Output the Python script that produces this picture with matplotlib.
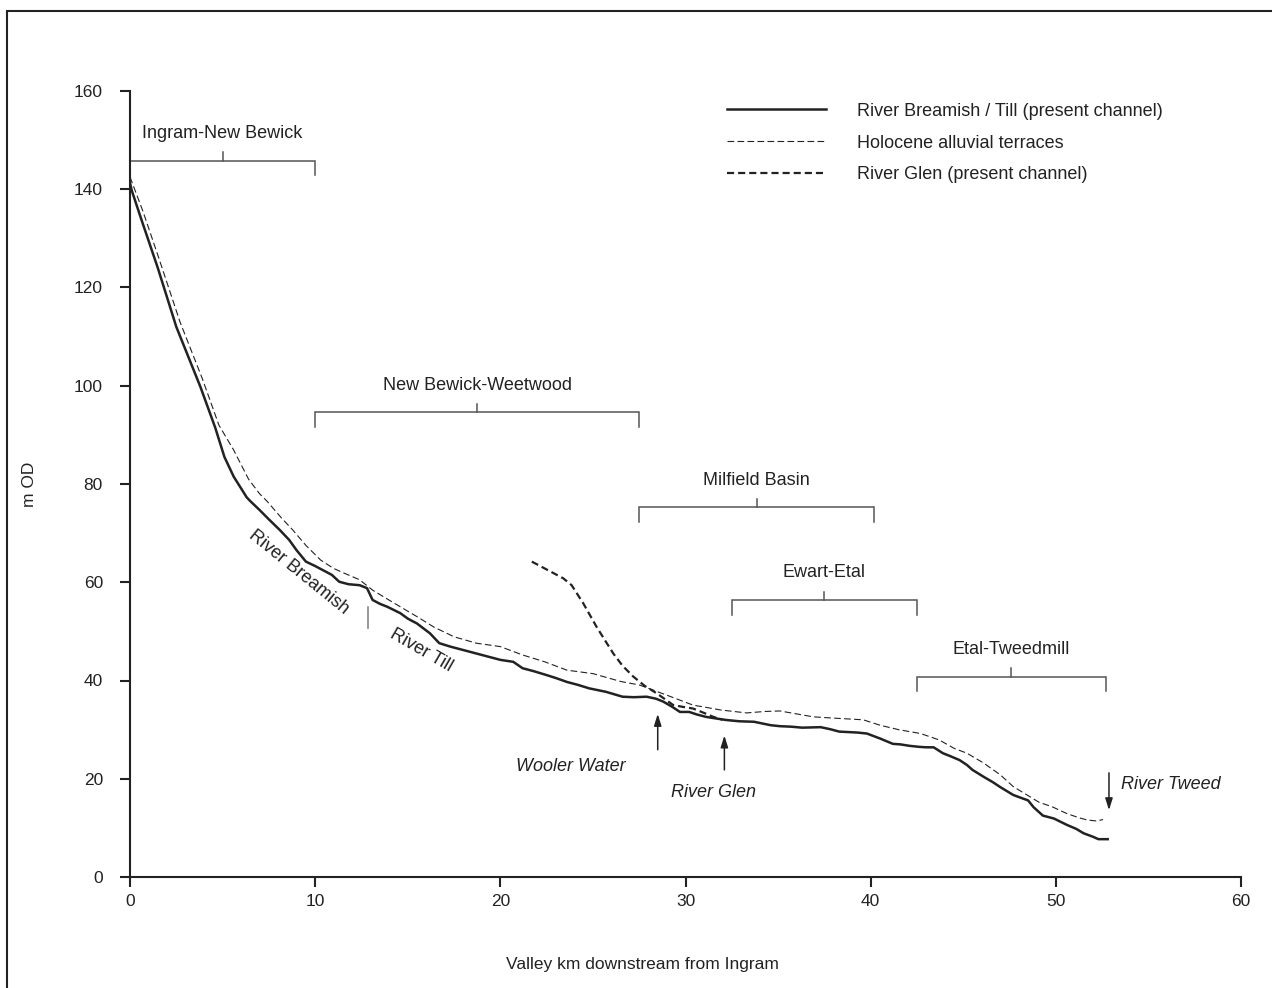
import matplotlib

matplotlib.use("Agg")

import matplotlib.pyplot as plt
from matplotlib.lines import Line2D
from matplotlib.patches import Rectangle

plt.rcParams["font.family"] = ["Liberation Sans", "DejaVu Sans"]

INK = "#222222"
GREY = "#555555"

# long profile of River Breamish / Till (present channel)
breamish_km = [
    0, 0.09, 0.6, 1.5, 2.5, 3.8, 4.6, 5.1, 5.6, 6.3, 6.5, 7.0, 7.5, 8.1, 8.6,
    9.0, 9.5, 10.0, 10.4, 10.9, 11.3, 11.8, 12.4, 12.8, 13.1, 13.5, 13.9, 14.6,
    15.0, 15.5, 16.2, 16.7, 17.3, 18.0, 18.7, 19.3, 20.0, 20.7, 21.2, 21.8,
    22.5, 23.0, 23.6, 24.2, 24.8, 25.7, 26.6, 27.2, 27.9, 28.4, 28.8, 29.3,
    29.7, 30.2, 30.6, 31.1, 31.6, 32.2, 32.9, 33.7, 34.6, 35.1, 35.7, 36.3,
    37.3, 37.8, 38.3, 38.8, 39.3, 39.8, 40.5, 41.2, 41.6, 42.1, 42.6, 43.0,
    43.4, 43.9, 44.3, 44.8, 45.2, 45.5, 46.1, 46.6, 47.0, 47.7, 48.2, 48.5,
    48.8, 49.3, 49.9, 50.6, 51.1, 51.5, 52.0, 52.3, 52.8,
]
breamish_m = [
    141.3, 139.8, 134.0, 124.0, 112.0, 99.8, 91.5, 85.5, 81.5, 77.3, 76.5,
    74.7, 72.8, 70.6, 68.6, 66.5, 64.2, 63.3, 62.5, 61.5, 60.1, 59.6, 59.4,
    58.8, 56.4, 55.6, 55.0, 53.7, 52.6, 51.6, 49.6, 47.6, 46.9, 46.2, 45.5,
    44.9, 44.2, 43.8, 42.5, 41.9, 41.1, 40.5, 39.7, 39.1, 38.4, 37.7, 36.7,
    36.6, 36.7, 36.3, 35.7, 34.6, 33.6, 33.6, 33.1, 32.6, 32.3, 31.96, 31.7,
    31.6, 30.9, 30.7, 30.6, 30.4, 30.5, 30.1, 29.6, 29.5, 29.4, 29.2, 28.2,
    27.1, 27.0, 26.7, 26.5, 26.4, 26.4, 25.2, 24.6, 23.8, 22.8, 21.8, 20.4,
    19.3, 18.3, 16.7, 16.0, 15.6, 14.2, 12.5, 11.9, 10.6, 9.8, 8.9, 8.2, 7.7,
    7.7,
]

# Holocene alluvial terrace surface
terrace_km = [
    0, 0.1, 0.7, 1.6, 2.7, 3.9, 4.8, 5.6, 6.4, 7.0, 7.4, 8.2, 8.8, 9.5, 10.3,
    11.0, 11.6, 12.4, 13.1, 13.8, 14.6, 15.5, 16.4, 17.5, 18.7, 20.0, 21.2,
    22.4, 23.6, 25.0, 26.5, 27.5, 29.0, 30.4, 31.9, 33.3, 34.3, 35.1, 36.0,
    36.9, 38.2, 39.6, 40.5, 41.5, 42.7, 43.7, 44.5, 45.2, 46.1, 47.0, 47.7,
    48.4, 49.1, 49.8, 50.6, 51.3, 51.7, 52.2, 52.55,
]
terrace_m = [
    142.5, 141.5, 135.5, 125.5, 113.0, 101.5, 92.0, 86.9, 81.0, 78.0, 76.5,
    73.0, 70.6, 67.5, 64.5, 62.8, 61.8, 60.5, 58.4, 56.8, 55.0, 53.0, 50.9,
    48.9, 47.6, 46.9, 45.2, 43.8, 42.1, 41.4, 39.8, 39.1, 37.0, 35.0, 34.0,
    33.4, 33.7, 33.8, 33.2, 32.6, 32.3, 32.0, 30.9, 30.0, 29.2, 27.9, 26.2,
    25.2, 23.2, 20.8, 18.4, 16.8, 15.2, 14.3, 12.9, 12.0, 11.6, 11.4, 11.7,
]

# River Glen (present channel)
glen_km = [21.7, 22.5, 23.4, 23.85, 24.48, 25.2, 26.1, 26.6, 27.18, 27.8,
           28.44, 29.34, 29.9, 30.4, 31.0, 31.5, 32.0]
glen_m = [64.2, 62.6, 60.8, 59.4, 55.7, 50.9, 45.5, 43.0, 40.8, 38.9, 37.4,
          35.0, 34.6, 34.3, 33.4, 32.6, 32.0]

# reach brackets
reach_names = ["Ingram-New Bewick", "New Bewick-Weetwood", "Milfield Basin",
               "Ewart-Etal", "Etal-Tweedmill"]
reach_start = [0, 10, 27.5, 32.5, 42.5]
reach_end = [10, 27.5, 40.2, 42.5, 52.7]
reach_level = [145.8, 94.6, 75.3, 56.4, 40.8]

# tributary confluences (arrows)
trib_names = ["Wooler Water", "River Glen", "River Tweed"]
trib_km = [28.5, 32.1, 52.87]
trib_tail = [25.9, 21.8, 21.2]
trib_head = [33.2, 28.8, 13.6]

fig = plt.figure(figsize=(12.72, 9.88), dpi=100)
fig.patches.append(Rectangle((7 / 1272, -0.1), 1.2, 1.1 - 11 / 988,
                             transform=fig.transFigure, fill=False,
                             edgecolor=INK, linewidth=1.5))
ax = fig.add_axes([130 / 1272, 1 - 877 / 988, 1111 / 1272, 786 / 988])

ax.plot(breamish_km, breamish_m, color=INK, lw=1.8,
        label="River Breamish / Till (present channel)")
ax.plot(terrace_km, terrace_m, color=INK, lw=0.8, dashes=(6, 3),
        label="Holocene alluvial terraces")
ax.plot(glen_km, glen_m, color=INK, lw=1.6, dashes=(3.2, 1.8),
        label="River Glen (present channel)")

for name, start, end, level in zip(reach_names, reach_start, reach_end, reach_level):
    mid = (start + end) / 2
    ax.plot([start, start, end, end], [level - 3, level, level, level - 3],
            color=GREY, lw=1.1, solid_joinstyle="miter")
    ax.plot([mid, mid], [level, level + 1.7], color=GREY, lw=1.1)
    ax.text(mid, level + 5.5, name, ha="center", va="center", fontsize=13,
            color=INK)

for name, km, tail, head in zip(trib_names, trib_km, trib_tail, trib_head):
    ax.annotate("", xy=(km, head), xytext=(km, tail),
                arrowprops=dict(arrowstyle="-|>,head_length=0.7,head_width=0.22",
                                color=INK, lw=1.1, shrinkA=0, shrinkB=0))
ax.text(23.8, 22.4, trib_names[0], style="italic", fontsize=13, ha="center",
        va="center", color=INK)
ax.text(31.5, 17.3, trib_names[1], style="italic", fontsize=13, ha="center",
        va="center", color=INK)
ax.text(53.5, 18.9, trib_names[2], style="italic", fontsize=13, ha="left",
        va="center", color=INK)

# river name change along the profile
ax.text(9.1, 62.1, "River Breamish", rotation=-39, rotation_mode="anchor",
        fontsize=13, ha="center", va="center", color=INK)
ax.text(15.75, 46.2, "River Till", rotation=-30, rotation_mode="anchor",
        fontsize=13, ha="center", va="center", color=INK)
ax.plot([12.84, 12.84], [50.6, 55.0], color="#888888", lw=1.2)

handles = [
    Line2D([], [], color=INK, lw=1.8),
    Line2D([], [], color=INK, lw=0.8, dashes=(6, 3)),
    Line2D([], [], color=INK, lw=1.6, dashes=(3.2, 1.8)),
]
ax.legend(handles, [h.get_label() for h in ax.lines[:3]], loc="upper left",
          bbox_to_anchor=(0.537, 0.985), frameon=False, fontsize=13,
          handlelength=5.5, handletextpad=1.72, labelspacing=0.82,
          borderpad=0, borderaxespad=0, labelcolor=INK)

ax.set_xlim(0, 60)
ax.set_ylim(0, 160)
ax.set_xticks(range(0, 61, 10))
ax.set_yticks(range(0, 161, 20))
for side in ("top", "right"):
    ax.spines[side].set_visible(False)
for side in ("left", "bottom"):
    ax.spines[side].set_linewidth(1.5)
    ax.spines[side].set_color(INK)
ax.tick_params(direction="out", length=7.5, width=1.5, color=INK,
               labelsize=12.5, labelcolor=INK)
ax.tick_params(axis="y", pad=12)
ax.tick_params(axis="x", pad=5)

ax.set_ylabel("m OD", fontsize=12.5, color=INK)
ax.yaxis.set_label_coords(-0.084, 0.5)
ax.set_xlabel("Valley km downstream from Ingram", fontsize=12.5, color=INK)
ax.xaxis.set_label_coords(0.461, -0.102)

fig.savefig("out.png", dpi=100)
